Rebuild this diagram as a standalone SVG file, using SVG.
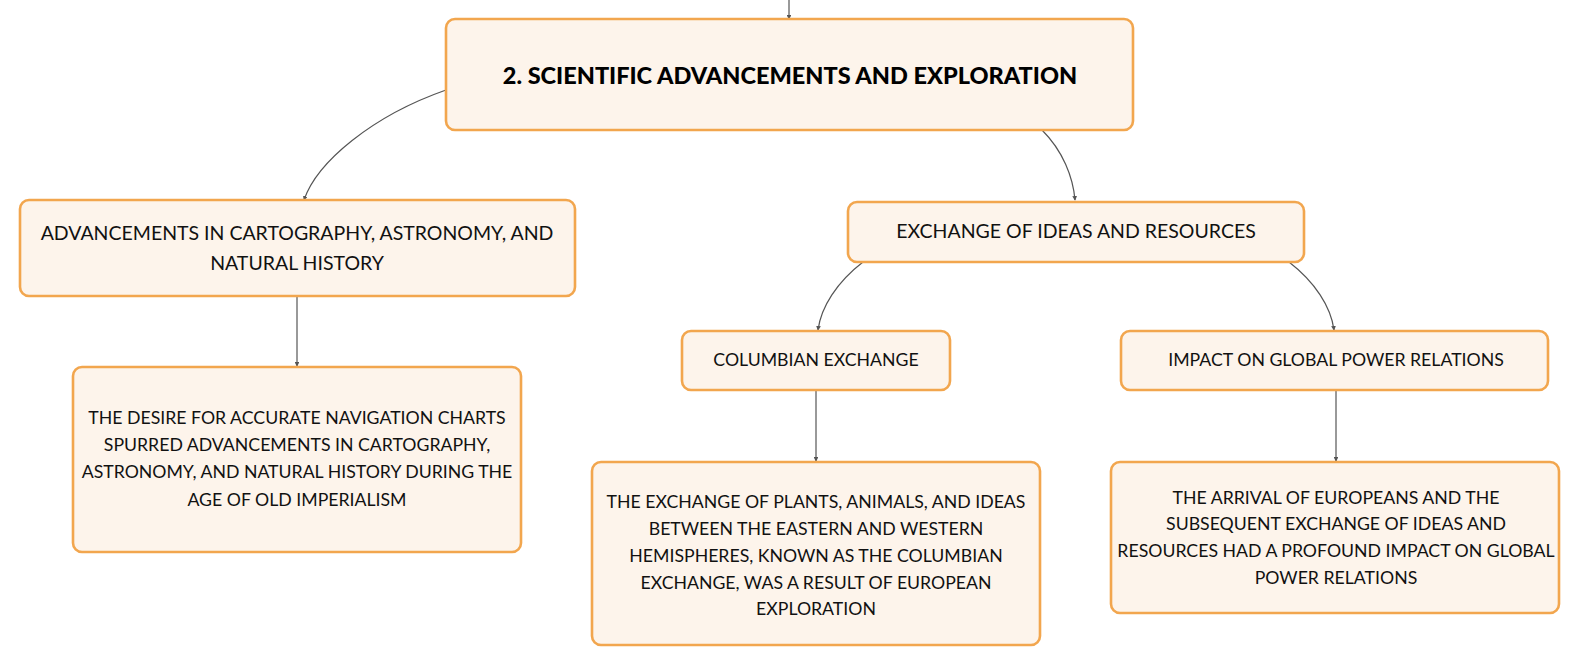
<svg xmlns="http://www.w3.org/2000/svg" width="1580" height="667" viewBox="0 0 1580 667">
<style>
.box{fill:#FDF4EB;stroke:#F2A64E;stroke-width:2.6}
.t{font-family:Lato,"Open Sans",sans-serif;font-size:17.7px;fill:#111;text-anchor:middle;dominant-baseline:central}
.t2{font-family:Lato,"Open Sans",sans-serif;font-size:19.5px;fill:#111;text-anchor:middle;dominant-baseline:central}
.tb{font-family:Lato,"Open Sans",sans-serif;font-size:23.5px;font-weight:900;fill:#000;text-anchor:middle;dominant-baseline:central}
.c{fill:none;stroke:#555;stroke-width:1.2;marker-end:url(#ah)}
</style>
<defs>
<marker id="ah" viewBox="0 0 6 6" refX="5" refY="3" markerWidth="4" markerHeight="4" orient="auto">
<path d="M0,0L6,3L0,6z" fill="#555"/>
</marker>
</defs>
<rect width="1580" height="667" fill="#fff"/>
<g id="connectors">
<path class="c" d="M789,0 L789,19"/>
<path class="c" d="M446,90 C372,116 317,162 304,200"/>
<path class="c" d="M1042,130 C1063,151 1073,177 1075,200"/>
<path class="c" d="M297,296 L297,366"/>
<path class="c" d="M863,262 C837,282 821,307 818,330"/>
<path class="c" d="M1289,262 C1315,282 1331,307 1334,330"/>
<path class="c" d="M816,390 L816,461"/>
<path class="c" d="M1336,390 L1336,461"/>
</g>
<g id="root">
<rect class="box" x="446" y="19" width="687" height="111" rx="9"/>
<text class="tb" x="790" y="74.5">2. SCIENTIFIC ADVANCEMENTS AND EXPLORATION</text>
</g>
<g id="nodeA">
<rect class="box" x="20" y="200" width="555" height="96" rx="9"/>
<text class="t2" x="297" y="232">ADVANCEMENTS IN CARTOGRAPHY, ASTRONOMY, AND</text>
<text class="t2" x="297" y="262">NATURAL HISTORY</text>
</g>
<g id="nodeA1">
<rect class="box" x="73" y="367" width="448" height="185" rx="9"/>
<text class="t" x="297" y="417">THE DESIRE FOR ACCURATE NAVIGATION CHARTS</text>
<text class="t" x="297" y="444.5">SPURRED ADVANCEMENTS IN CARTOGRAPHY,</text>
<text class="t" x="297" y="471.5">ASTRONOMY, AND NATURAL HISTORY DURING THE</text>
<text class="t" x="297" y="499">AGE OF OLD IMPERIALISM</text>
</g>
<g id="nodeB">
<rect class="box" x="848" y="202" width="456" height="60" rx="9"/>
<text class="t2" x="1076" y="230">EXCHANGE OF IDEAS AND RESOURCES</text>
</g>
<g id="nodeC">
<rect class="box" x="682" y="331" width="268" height="59" rx="9"/>
<text class="t" x="816" y="359">COLUMBIAN EXCHANGE</text>
</g>
<g id="nodeD">
<rect class="box" x="1121" y="331" width="427" height="59" rx="9"/>
<text class="t" x="1336" y="359">IMPACT ON GLOBAL POWER RELATIONS</text>
</g>
<g id="nodeC1">
<rect class="box" x="592" y="462" width="448" height="183" rx="9"/>
<text class="t" x="816" y="501">THE EXCHANGE OF PLANTS, ANIMALS, AND IDEAS</text>
<text class="t" x="816" y="528">BETWEEN THE EASTERN AND WESTERN</text>
<text class="t" x="816" y="555">HEMISPHERES, KNOWN AS THE COLUMBIAN</text>
<text class="t" x="816" y="582">EXCHANGE, WAS A RESULT OF EUROPEAN</text>
<text class="t" x="816" y="608.5">EXPLORATION</text>
</g>
<g id="nodeD1">
<rect class="box" x="1111" y="462" width="448" height="151" rx="9"/>
<text class="t" x="1336" y="497">THE ARRIVAL OF EUROPEANS AND THE</text>
<text class="t" x="1336" y="523.5">SUBSEQUENT EXCHANGE OF IDEAS AND</text>
<text class="t" x="1336" y="550.5">RESOURCES HAD A PROFOUND IMPACT ON GLOBAL</text>
<text class="t" x="1336" y="577.5">POWER RELATIONS</text>
</g>
</svg>
